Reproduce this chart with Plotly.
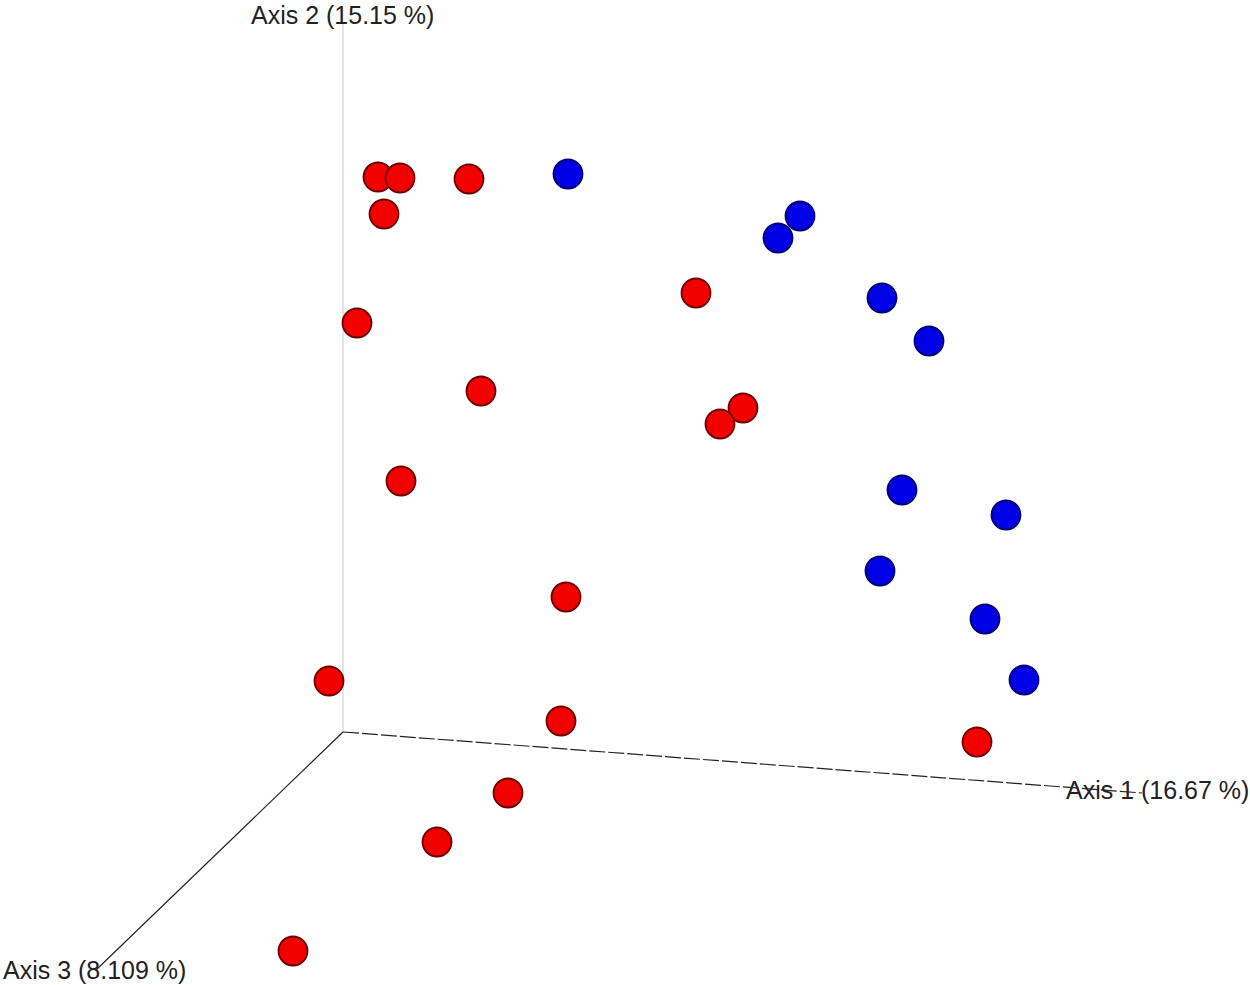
import plotly.graph_objects as go

# Projected PCoA sample positions (as read from the rendered 3D view)
red_x = [378, 400, 469, 384, 357, 481, 401, 696, 743, 720, 566, 329, 561, 508, 437, 293, 977]
red_y = [177, 178, 179, 214, 323, 391, 481, 293, 408, 424, 597, 681, 721, 793, 842, 951, 742]
blue_x = [568, 800, 778, 882, 929, 902, 1006, 880, 985, 1024]
blue_y = [174, 216, 238, 298, 341, 490, 515, 571, 619, 680]

# Axis endpoints in the projected view
origin = (343, 732)
axis1_end = (1142, 793)
axis2_end = (343, 22)
axis3_end = (96, 970)
axis_labels = ["Axis 1 (16.67 %)", "Axis 2 (15.15 %)", "Axis 3 (8.109 %)"]

fig = go.Figure()
fig.add_trace(go.Scatter(x=[origin[0], axis2_end[0]], y=[origin[1], axis2_end[1]],
                         mode="lines", line=dict(color="#d0d0d0", width=1.2), hoverinfo="skip"))
fig.add_trace(go.Scatter(x=[origin[0], axis1_end[0]], y=[origin[1], axis1_end[1]],
                         mode="lines", line=dict(color="#222222", width=1.2, dash="16px,3px"), hoverinfo="skip"))
fig.add_trace(go.Scatter(x=[origin[0], axis3_end[0]], y=[origin[1], axis3_end[1]],
                         mode="lines", line=dict(color="#222222", width=1.2), hoverinfo="skip"))
fig.add_trace(go.Scatter(x=red_x, y=red_y, mode="markers",
                         marker=dict(size=29, color="#f20000", line=dict(color="#6e0000", width=1.8))))
fig.add_trace(go.Scatter(x=blue_x, y=blue_y, mode="markers",
                         marker=dict(size=29, color="#0000e6", line=dict(color="#00006e", width=1.8))))

font = dict(family="Liberation Sans, Arial, sans-serif", size=25, color="#222222")
fig.add_annotation(x=1064, y=790, text=axis_labels[0], showarrow=False, xanchor="left", yanchor="middle", font=font)
fig.add_annotation(x=250, y=0, text=axis_labels[1], showarrow=False, xanchor="left", yanchor="top",
                   borderpad=0, font=font)
fig.add_annotation(x=1, y=970, text=axis_labels[2], showarrow=False, xanchor="left", yanchor="middle", font=font)

fig.update_layout(width=1250, height=985, margin=dict(l=0, r=0, t=0, b=0),
                  paper_bgcolor="white", plot_bgcolor="white", showlegend=False,
                  xaxis=dict(range=[0, 1250], visible=False, fixedrange=True),
                  yaxis=dict(range=[985, 0], visible=False, fixedrange=True))
fig.write_html("out.html", config={"displayModeBar": False},
               post_script="document.body.style.margin='0';document.body.style.overflow='hidden';")
